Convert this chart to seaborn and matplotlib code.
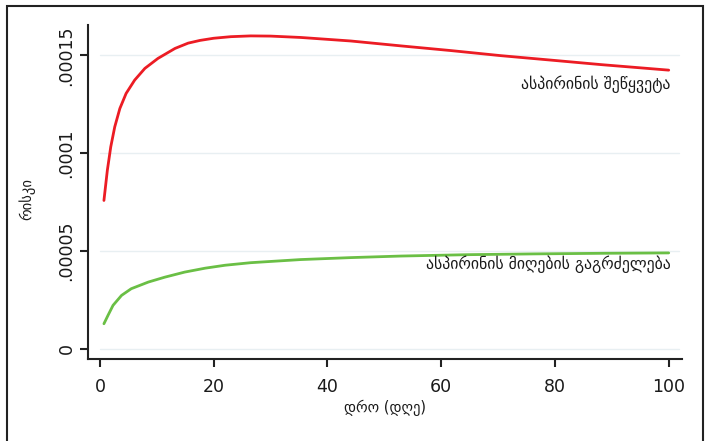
import numpy as np
import pandas as pd
import matplotlib
matplotlib.use("Agg")
import matplotlib.pyplot as plt
import seaborn as sns
from matplotlib.patches import Rectangle

# data
days_stop = [0.7, 1.3, 1.9, 2.6, 3.5, 4.6, 6.1, 7.9, 10.2, 13.2, 15.5, 17.6, 20, 23, 26.5, 30,
             35.3, 44.1, 52.9, 61.7, 70.5, 79.4, 88.2, 100]
risk_stop = [7.58e-5, 9.12e-5, 1.032e-4, 1.134e-4, 1.228e-4, 1.305e-4, 1.373e-4, 1.433e-4,
             1.484e-4, 1.535e-4, 1.562e-4, 1.576e-4, 1.587e-4, 1.595e-4, 1.599e-4, 1.598e-4,
             1.591e-4, 1.573e-4, 1.548e-4, 1.524e-4, 1.498e-4, 1.475e-4, 1.452e-4, 1.424e-4]
days_cont = [0.7, 1.4, 2.3, 3.8, 5.5, 8.5, 11.4, 14.9, 18.5, 22, 26.5, 35.3, 44.1, 52.9, 64.7,
             76.4, 88.2, 100]
risk_cont = [1.28e-5, 1.70e-5, 2.22e-5, 2.73e-5, 3.07e-5, 3.41e-5, 3.66e-5, 3.92e-5, 4.12e-5,
             4.27e-5, 4.4e-5, 4.56e-5, 4.66e-5, 4.74e-5, 4.81e-5, 4.85e-5, 4.88e-5, 4.9e-5]
label_stop = "ასპირინის შეწყვეტა"
label_cont = "ასპირინის მიღების გაგრძელება"
xticks = [0, 20, 40, 60, 80, 100]
yticks = [0, 0.00005, 0.0001, 0.00015]
ytick_labels = ["0", ".00005", ".0001", ".00015"]
xlabel = "დრო (დღე)"
ylabel = "რისკი"

sns.set_theme(style="white")
plt.rcParams['font.family'] = ['DejaVu Sans']

df = pd.concat([
    pd.DataFrame({"day": days_stop, "risk": risk_stop, "group": label_stop}),
    pd.DataFrame({"day": days_cont, "risk": risk_cont, "group": label_cont}),
])

fig = plt.figure(figsize=(7.08, 4.41), dpi=100)
ax = fig.add_axes([0.1243, 0.186, 0.963 - 0.1243, 0.943 - 0.186])

red = "#ec1c24"
green = "#6abf45"
sns.lineplot(data=df, x="day", y="risk", hue="group", palette={label_stop: red, label_cont: green},
             linewidth=2.0, legend=False, ax=ax)
for line in ax.lines:
    line.set_solid_joinstyle("round")

ax.set_xlim(-2.1, 102.3)
ax.set_ylim(-5.2e-6, 1.654e-4)
ax.set_xticks(xticks)
ax.set_xticklabels([str(v) for v in xticks], fontsize=12.5)
ax.set_yticks(yticks)
ax.set_yticklabels(ytick_labels, fontsize=12.5, rotation=90, va="center")
for y in yticks:
    ax.plot([0, 100 + 1.8], [y, y], color="#e8eff2", lw=1.0, zorder=0)

ax.tick_params(axis="both", direction="out", length=6, width=1.5, color="#222222",
               bottom=True, left=True, labelcolor="#1a1a1a")
ax.tick_params(axis="x", pad=8)
ax.tick_params(axis="y", pad=3)
for s in ["top", "right"]:
    ax.spines[s].set_visible(False)
for s in ["left", "bottom"]:
    ax.spines[s].set_color("#222222")
    ax.spines[s].set_linewidth(1.5)

ax.set_xlabel(xlabel, fontsize=10.5, labelpad=2, color="#1a1a1a")
ax.set_ylabel(ylabel, fontsize=10.5, labelpad=8, color="#1a1a1a")
ax.yaxis.set_label_coords(-0.088, 0.48)

ax.text(100.3, 1.35e-4, label_stop, ha="right", va="center", fontsize=11.3, color="#1a1a1a")
ax.text(100.3, 4.3e-5, label_cont, ha="right", va="center", fontsize=11.3, color="#1a1a1a")

fig.patches.append(Rectangle((7 / 708, -0.05), (703 - 7) / 708, (435 / 441) + 0.05,
                             transform=fig.transFigure, fill=False, edgecolor="#222222",
                             linewidth=1.5))

fig.savefig("out.png", dpi=100)
